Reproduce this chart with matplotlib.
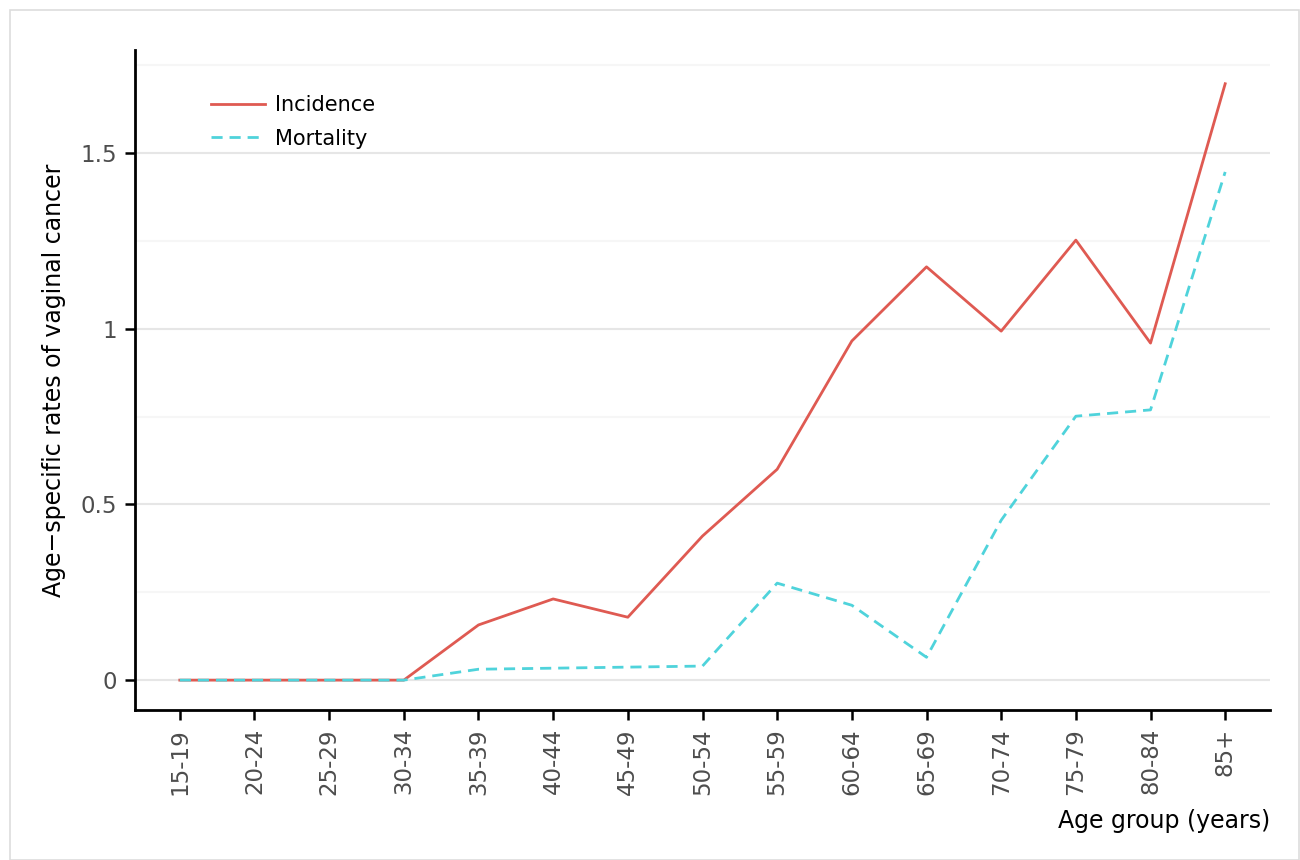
import matplotlib.pyplot as plt
from matplotlib.patches import Rectangle
import numpy as np

plt.rcParams['font.family'] = ['DejaVu Sans']

# age groups and rates
age_groups = ["15-19", "20-24", "25-29", "30-34", "35-39", "40-44", "45-49",
              "50-54", "55-59", "60-64", "65-69", "70-74", "75-79", "80-84", "85+"]
incidence = [0, 0, 0, 0, 0.157, 0.231, 0.179, 0.41, 0.60, 0.965, 1.176,
             0.993, 1.252, 0.959, 1.697]
mortality = [0, 0, 0, 0, 0.031, 0.034, 0.037, 0.040, 0.276, 0.213, 0.065,
             0.455, 0.751, 0.769, 1.446]
ytick_vals = [0, 0.5, 1, 1.5]
ytick_labels = ["0", "0.5", "1", "1.5"]

fig = plt.figure(figsize=(13, 8.6), dpi=100)
ax = fig.add_axes([135/1300, 1 - 710/860, (1270-135)/1300, (710-50)/860])

# light frame round the figure
fig.patches.append(Rectangle((10/1300, 0.0), 1 - 11/1300, 1 - 10/860,
                             transform=fig.transFigure, fill=False,
                             edgecolor="#dddddd", linewidth=1.2))

x = np.arange(len(age_groups))
ax.plot(x, incidence, color="#df5a52", lw=2, label="Incidence")
ax.plot(x, mortality, color="#4fd3db", lw=2, ls=(0, (4, 2.5)), label="Mortality")

ax.set_xlim(-0.6, 14.6)
ax.set_ylim(-0.085, 1.793)

# grid: major and faint minor lines
for v in ytick_vals:
    ax.axhline(v, color="#e6e6e6", lw=1.5, zorder=0)
for v in [0.25, 0.75, 1.25, 1.75]:
    ax.axhline(v, color="#f6f6f6", lw=1.5, zorder=0)

ax.set_yticks(ytick_vals)
ax.set_yticklabels(ytick_labels)
ax.set_xticks(x)
ax.set_xticklabels(age_groups, rotation=90)
ax.tick_params(axis="both", length=7, width=1.8, color="black",
               labelsize=16.5, labelcolor="#4d4d4d", pad=6)

for side in ["top", "right"]:
    ax.spines[side].set_visible(False)
for side in ["left", "bottom"]:
    ax.spines[side].set_linewidth(2)
    ax.spines[side].set_color("black")

ax.set_ylabel("Age\u2212specific rates of vaginal cancer", fontsize=17, labelpad=10)
ax.set_xlabel("Age group (years)", fontsize=17, loc="right", labelpad=10)

ax.legend(loc="upper left", bbox_to_anchor=(0.05, 0.96), frameon=False,
          fontsize=15, handlelength=2.6, handletextpad=0.5, labelspacing=0.65)

fig.savefig("out.png", dpi=100)
